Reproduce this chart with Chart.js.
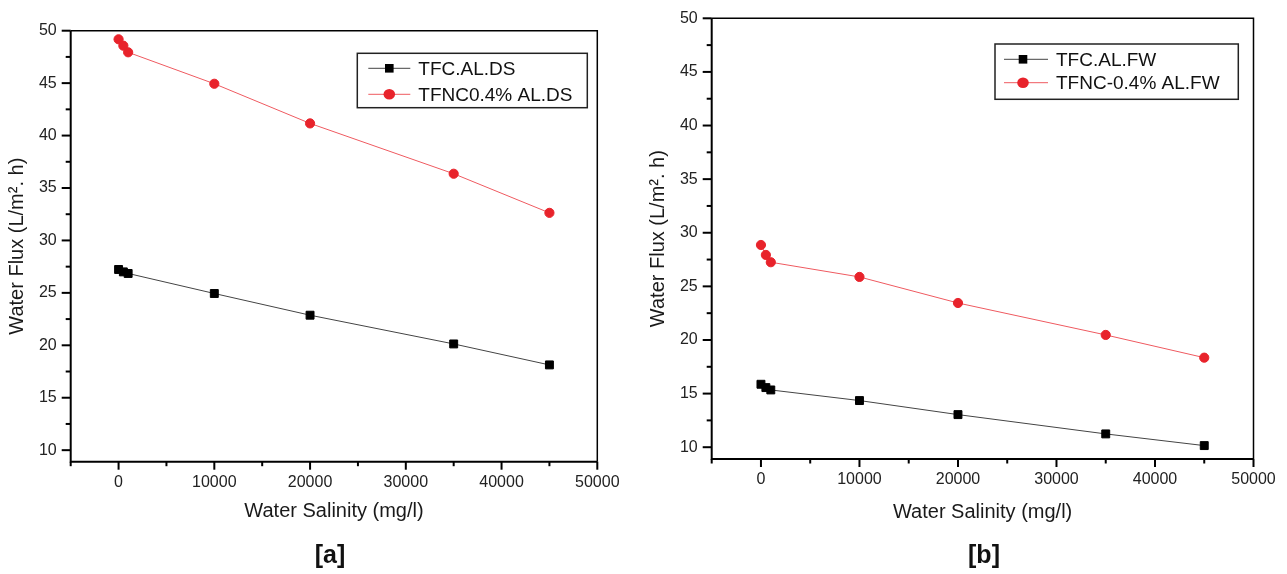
<!DOCTYPE html>
<html>
<head>
<meta charset="utf-8">
<script src="https://cdn.jsdelivr.net/npm/chart.js@4.4.1/dist/chart.umd.min.js"></script>
<style>
  html, body { margin: 0; padding: 0; background: #fff; }
  body { width: 1287px; height: 574px; position: relative; overflow: hidden; font-family: "Liberation Sans", Arial, sans-serif; }
  .panel { position: absolute; top: 0; height: 574px; }
  .cap { position: absolute; font-weight: bold; font-size: 25px; line-height: 25px; color: #111; text-align: center; width: 80px; }
</style>
</head>
<body>
<div class="panel" style="left:0;width:640px"><canvas id="ca" width="640" height="574"></canvas></div>
<div class="panel" style="left:640px;width:647px"><canvas id="cb" width="647" height="574"></canvas></div>
<div class="cap" style="left:290px;top:542px">[a]</div>
<div class="cap" style="left:944px;top:542px">[b]</div>
<script>
// ---- data ----
const salinity = [0, 500, 1000, 10000, 20000, 35000, 45000];

const labelsA = ['TFC.AL.DS', 'TFNC0.4% AL.DS'];
const tfcDS  = [27.23, 27.0, 26.85, 24.94, 22.87, 20.13, 18.13];
const tfncDS = [49.18, 48.57, 47.94, 44.94, 41.16, 36.36, 32.63];

const labelsB = ['TFC.AL.FW', 'TFNC-0.4% AL.FW'];
const tfcFW  = [15.87, 15.56, 15.34, 14.35, 13.04, 11.24, 10.15];
const tfncFW = [28.86, 27.93, 27.25, 25.88, 23.45, 20.47, 18.35];

const xMajorTicks = [0, 10000, 20000, 30000, 40000, 50000];
const xMinorTicks = [-5000, 5000, 15000, 25000, 35000, 45000];
const yMajorTicks = [10, 15, 20, 25, 30, 35, 40, 45, 50];
const yMinorTicks = [12.5, 17.5, 22.5, 27.5, 32.5, 37.5, 42.5, 47.5];

const xTitle = 'Water Salinity (mg/l)';
const yTitle = 'Water Flux (L/m\u00B2. h)';

const FONT = '"Liberation Sans", Arial, sans-serif';
const RED = '#e8232b';
const RED_LINE = '#ef5a60';
const BLACK = '#000000';
const BLACK_LINE = '#444444';

function pts(xs, ys) { return xs.map((x, i) => ({ x: x, y: ys[i] })); }

const framePlugin = {
  id: 'frame',
  afterDraw(chart) {
    const { ctx, chartArea: a, scales } = chart;
    const x = scales.x, y = scales.y;
    ctx.save();
    ctx.strokeStyle = '#000';
    ctx.lineWidth = 1.5;
    ctx.beginPath();
    ctx.moveTo(a.left, a.top); ctx.lineTo(a.right, a.top); ctx.lineTo(a.right, a.bottom);
    ctx.stroke();
    ctx.lineWidth = 2;
    ctx.beginPath();
    ctx.moveTo(a.left, a.top); ctx.lineTo(a.left, a.bottom); ctx.lineTo(a.right, a.bottom);
    ctx.stroke();
    ctx.lineWidth = 2;
    y.ticks.forEach(t => {
      const py = y.getPixelForValue(t.value);
      const len = yMajorTicks.includes(t.value) ? 9 : 5;
      ctx.beginPath(); ctx.moveTo(a.left - len, py); ctx.lineTo(a.left, py); ctx.stroke();
    });
    x.ticks.forEach(t => {
      const px = x.getPixelForValue(t.value);
      const len = xMajorTicks.includes(t.value) ? 8 : 4.5;
      ctx.beginPath(); ctx.moveTo(px, a.bottom); ctx.lineTo(px, a.bottom + len); ctx.stroke();
    });
    ctx.restore();
  }
};

const legendPlugin = {
  id: 'boxLegend',
  afterDraw(chart, args, o) {
    const ctx = chart.ctx;
    ctx.save();
    ctx.fillStyle = '#fff';
    ctx.fillRect(o.left, o.top, o.width, o.height);
    ctx.strokeStyle = '#222';
    ctx.lineWidth = 1.5;
    ctx.strokeRect(o.left, o.top, o.width, o.height);
    chart.data.datasets.forEach((ds, i) => {
      const ry = o.top + o.rows[i];
      ctx.strokeStyle = ds.borderColor;
      ctx.lineWidth = 1;
      ctx.beginPath();
      ctx.moveTo(o.left + o.line0, ry); ctx.lineTo(o.left + o.line1, ry);
      ctx.stroke();
      ctx.fillStyle = ds.pointBackgroundColor;
      const mx = o.left + o.marker;
      if (ds.pointStyle === 'rect') {
        ctx.fillRect(mx - 4.3, ry - 4.3, 8.6, 8.6);
      } else {
        ctx.beginPath(); ctx.ellipse(mx, ry, 5.8, 5.2, 0, 0, Math.PI * 2); ctx.fill();
      }
      ctx.fillStyle = '#111';
      ctx.font = '19px ' + FONT;
      ctx.textBaseline = 'middle';
      ctx.textAlign = 'left';
      ctx.fillText(ds.label, o.left + o.text, ry + 1);
    });
    ctx.restore();
  }
};

function makeChart(id, labels, blackVals, redVals, geo, legendOpts) {
  return new Chart(document.getElementById(id), {
    type: 'line',
    data: {
      datasets: [
        {
          label: labels[0], data: pts(salinity, blackVals),
          borderColor: BLACK_LINE, borderWidth: 1,
          pointStyle: 'rect', pointRadius: 5.6, pointBorderWidth: 1,
          pointBackgroundColor: BLACK, pointBorderColor: BLACK,
          tension: 0, clip: false
        },
        {
          label: labels[1], data: pts(salinity, redVals),
          borderColor: RED_LINE, borderWidth: 1,
          pointStyle: 'circle', pointRadius: 4.6, pointBorderWidth: 1,
          pointBackgroundColor: RED, pointBorderColor: RED,
          tension: 0, clip: false
        }
      ]
    },
    options: {
      responsive: false,
      animation: false,
      events: [],
      layout: { padding: { left: 0, top: geo.top, right: geo.right, bottom: geo.bottom } },
      plugins: { legend: { display: false }, tooltip: { enabled: false }, boxLegend: legendOpts },
      scales: {
        x: {
          type: 'linear', min: -5000, max: 50000,
          grid: { display: false, drawTicks: true, tickLength: 8 },
          border: { display: false },
          afterBuildTicks: s => { s.ticks = xMinorTicks.concat(xMajorTicks).sort((p, q) => p - q).map(v => ({ value: v })); },
          afterFit: s => { s.height = geo.xh; },
          ticks: {
            autoSkip: false, maxRotation: 0, minRotation: 0, padding: 3,
            color: '#222', font: { family: FONT, size: 16 },
            callback: v => xMajorTicks.includes(v) ? String(v) : ''
          },
          title: { display: true, text: xTitle, color: '#1a1a1a', font: { family: FONT, size: 20 }, padding: { top: 0, bottom: 0 } }
        },
        y: {
          type: 'linear', min: 8.9, max: 50,
          grid: { display: false, drawTicks: true, tickLength: 9 },
          border: { display: false },
          afterBuildTicks: s => { s.ticks = yMinorTicks.concat(yMajorTicks).sort((p, q) => p - q).map(v => ({ value: v })); },
          afterFit: s => { s.width = geo.yw; },
          ticks: {
            autoSkip: false, padding: 5,
            color: '#222', font: { family: FONT, size: 16 },
            callback: v => yMajorTicks.includes(v) ? String(v) : ''
          },
          title: { display: true, text: yTitle, color: '#1a1a1a', font: { family: FONT, size: 20 }, padding: { top: geo.ytp, bottom: 0 } }
        }
      }
    },
    plugins: [framePlugin, legendPlugin]
  });
}

makeChart('ca', labelsA, tfcDS, tfncDS,
  { top: 30.7, right: 42.7, bottom: 50.5, xh: 61.8, yw: 70.7, ytp: 5.5 },
  { left: 357.3, top: 53.3, width: 230, height: 54.4, rows: [15, 41], line0: 11, line1: 53, marker: 32, text: 61 });

makeChart('cb', labelsB, tfcFW, tfncFW,
  { top: 18.3, right: 33.5, bottom: 50, xh: 65, yw: 71.7, ytp: 6 },
  { left: 355, top: 44, width: 243.3, height: 55.3, rows: [15.3, 38.7], line0: 9, line1: 53, marker: 28, text: 61 });
</script>
</body>
</html>
